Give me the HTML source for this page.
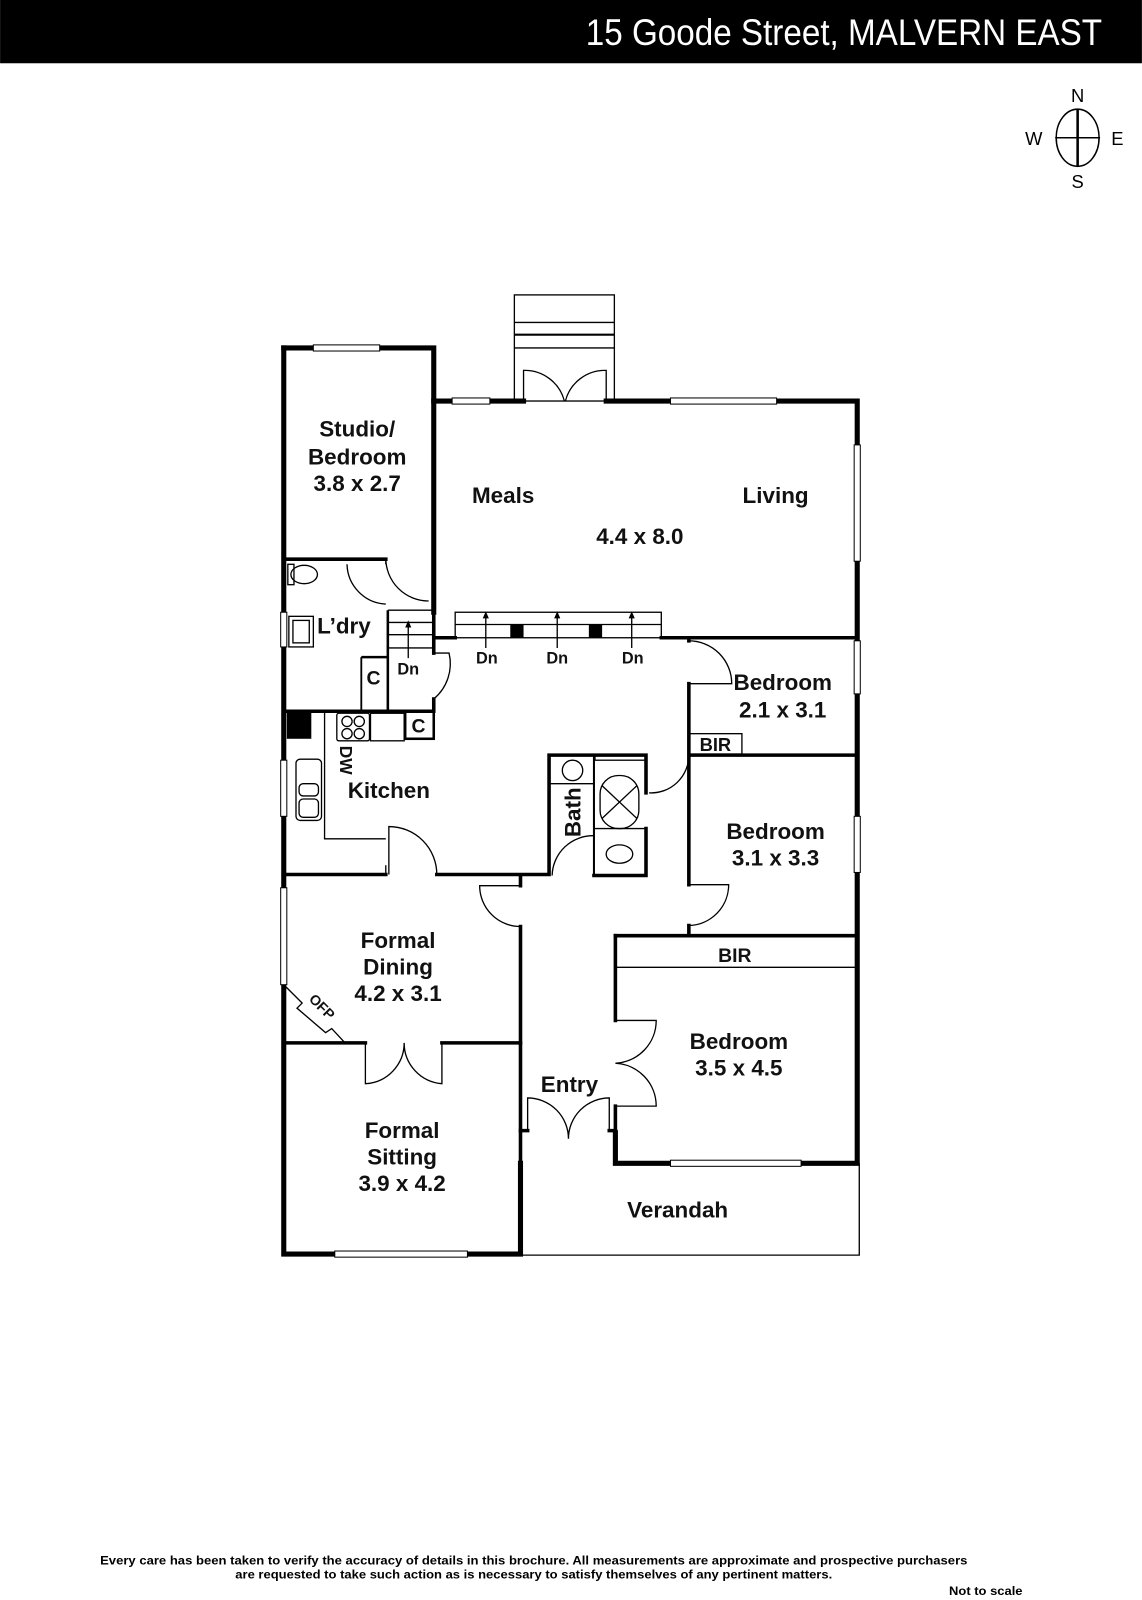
<!DOCTYPE html>
<html><head><style>
html,body{margin:0;padding:0;background:#fff;}
svg{display:block;}
text{font-family:"Liberation Sans",sans-serif;}
.l{font-weight:bold;font-size:22px;text-anchor:middle;fill:#111;}
</style></head><body>
<svg width="1142" height="1600" viewBox="0 0 1119 1568" xmlns="http://www.w3.org/2000/svg">
<rect x="0" y="0" width="1119" height="62" fill="#000"/>
<text x="1080" y="44" fill="#fff" font-size="36" text-anchor="end" textLength="506" lengthAdjust="spacingAndGlyphs">15 Goode Street, MALVERN EAST</text>
<!-- compass -->
<g stroke="#000" fill="none" stroke-width="1.5">
<ellipse cx="1056" cy="135" rx="21" ry="28"/>
<line x1="1034" y1="135" x2="1078" y2="135"/>
<line x1="1056" y1="107" x2="1056" y2="163" stroke-width="2.5"/>
</g>
<g font-size="18" text-anchor="middle" fill="#000">
<text x="1056" y="100">N</text><text x="1056" y="184">S</text>
<text x="1013" y="142">W</text><text x="1095" y="142">E</text>
</g>

<g stroke="#000" fill="none" stroke-width="1.3">
<rect x="504" y="289" width="98" height="104"/>
<line x1="504" y1="316" x2="602" y2="316"/>
<line x1="504" y1="328" x2="602" y2="328" stroke-width="2"/>
<line x1="504" y1="341" x2="602" y2="341"/>
<path d="M513 393 V363 A40 40 0 0 1 553 393 M594 393 V363 A40 40 0 0 0 554 393"/>
<path d="M510 1140 V1230 H842 V1140"/>
<rect x="446" y="600" width="202" height="25"/>
<line x1="446" y1="612" x2="648" y2="612"/>
<line x1="380" y1="598" x2="425" y2="598"/><line x1="380" y1="610" x2="425" y2="610"/>
<line x1="380" y1="622" x2="425" y2="622"/><line x1="380" y1="635" x2="425" y2="635"/>
<line x1="380" y1="598" x2="380" y2="697" stroke-width="2.5"/>
<line x1="354" y1="644" x2="354" y2="697" stroke-width="1.8"/>
<line x1="354" y1="644" x2="380" y2="644" stroke-width="2.5"/>
<path d="M340 553 A40 40 0 0 0 378 592 M378 553 V548"/>
<path d="M378 547 A42 42 0 0 0 420 589"/>
<path d="M425 640 H440 A45 45 0 0 1 425 685"/>
<path d="M675 628 A42 42 0 0 1 717 670 H675"/>
<path d="M675 740 A37 37 0 0 1 636 777"/>
<path d="M675 867 H714 A40 40 0 0 1 675 907"/>
<path d="M510 868 H470 A40 40 0 0 0 510 908"/>
<path d="M378 857 V848 M428 857 A47 47 0 0 0 381 810 V857"/>
<path d="M541 858 A40 40 0 0 1 582 819"/>
<path d="M603 1000 H643 A42 42 0 0 1 603 1042 A42 42 0 0 1 643 1084 H603"/>
<path d="M358 1022 V1062 A40 40 0 0 0 396 1022 A40 40 0 0 0 433 1062 V1022"/>
<path d="M517 1108 V1076 A40 40 0 0 1 557 1116 A40 40 0 0 1 597 1076 V1108"/>
<rect x="675" y="719" width="52" height="20"/>
<line x1="603" y1="948" x2="838" y2="948"/>
<line x1="582" y1="740" x2="582" y2="858" stroke-width="2"/>
<line x1="538" y1="768" x2="582" y2="768"/>
<circle cx="561" cy="755" r="10"/>
<rect x="588" y="760" width="38" height="52" rx="18"/>
<path d="M590 770 L624 802 M624 770 L590 802"/>
<line x1="582" y1="812" x2="633" y2="812"/>
<ellipse cx="607" cy="837" rx="13" ry="9"/>
<rect x="583" y="740" width="50" height="5"/>
<ellipse cx="298" cy="563" rx="13" ry="9"/>
<rect x="282" y="553" width="6" height="20"/>
<rect x="283" y="604" width="24" height="30"/><rect x="287" y="608" width="16" height="22"/>
<path d="M318 697 V822 H378"/>
<rect x="290" y="744" width="25" height="60" rx="4"/>
<rect x="293" y="768" width="19" height="12" rx="4"/><rect x="293" y="783" width="19" height="18" rx="4"/>
<rect x="330" y="699" width="32" height="27" rx="2"/>
<circle cx="340" cy="707" r="5"/><circle cx="352" cy="707" r="5"/><circle cx="340" cy="719" r="5"/><circle cx="352" cy="719" r="5"/>
<rect x="363" y="699" width="33" height="27"/>
<rect x="397" y="697" width="28" height="27" stroke-width="2.5"/>
<path d="M280 967 L296 983 L291 988 L319 1012 L325 1008 L338 1022"/>
<path d="M400 645 V612 M476 635 V603 M546 635 V603 M619 635 V603"/>
</g>
<g fill="#000">
<path d="M400 608 l-3 7 h6z M476 599 l-3 7 h6z M546 599 l-3 7 h6z M619 599 l-3 7 h6z"/>
<rect x="500" y="612" width="13" height="13"/><rect x="577" y="612" width="13" height="13"/>
<rect x="281" y="697" width="24" height="27"/>
</g>

<g stroke="#000" fill="none" stroke-width="5" stroke-linecap="square">
<path d="M278 341 V1229 H510 V1140"/>
<path d="M278 341 H425 V393 H513 M594 393 H840 V1140 H603 V1110"/>
<path d="M425 393 V600"/>
</g>
<g stroke="#000" fill="none" stroke-width="3.5" stroke-linecap="square">
<path d="M280 548 H378"/>
<path d="M425 600 V625 H446 M648 625 H840"/>
<path d="M425 625 V640 M425 685 V697 H280"/>
<path d="M675 625 V628 M675 670 V867 M675 740 H840"/>
<path d="M675 907 V917 M603 917 H840"/>
<path d="M603 917 V1000 M603 1084 V1110"/>
<path d="M510 858 V868 M510 908 V1229"/>
<path d="M280 857 H378 M428 857 H538 V740 H633 V777 M582 858 H633 V812"/>
<path d="M280 1022 H358 M433 1022 H510"/>
<path d="M510 1108 H517 M597 1108 H603"/>
</g>
<g fill="#fff" stroke="#000" stroke-width="1">
<rect x="307" y="338" width="65" height="6"/>
<rect x="443" y="390" width="37" height="6"/>
<rect x="657" y="390" width="104" height="6"/>
<rect x="837" y="436" width="6" height="114"/>
<rect x="837" y="628" width="6" height="52"/>
<rect x="837" y="800" width="6" height="55"/>
<rect x="275" y="600" width="6" height="34"/>
<rect x="275" y="745" width="6" height="55"/>
<rect x="275" y="870" width="6" height="95"/>
<rect x="657" y="1137" width="128" height="6"/>
<rect x="328" y="1226" width="130" height="6"/>
</g>

<g class="l">
<text class="l" x="350" y="428">Studio/</text>
<text class="l" x="350" y="455">Bedroom</text>
<text class="l" x="350" y="481">3.8 x 2.7</text>
<text class="l" x="493" y="493">Meals</text>
<text class="l" x="760" y="493">Living</text>
<text class="l" x="627" y="533">4.4 x 8.0</text>
<text class="l" x="337" y="621">L’dry</text>
<text class="l" x="366" y="671" style="font-size:19px">C</text>
<text class="l" x="410" y="718" style="font-size:19px">C</text>
<text class="l" x="400" y="661" style="font-size:16px">Dn</text>
<text class="l" x="477" y="650" style="font-size:16px">Dn</text>
<text class="l" x="546" y="650" style="font-size:16px">Dn</text>
<text class="l" x="620" y="650" style="font-size:16px">Dn</text>
<text class="l" x="767" y="676">Bedroom</text>
<text class="l" x="767" y="703">2.1 x 3.1</text>
<text class="l" x="701" y="736" style="font-size:18px">BIR</text>
<text class="l" x="381" y="782">Kitchen</text>
<text class="l" x="0" y="0" style="font-size:17px" transform="translate(333,745) rotate(90)">DW</text>
<text class="l" x="0" y="0" transform="translate(569,796) rotate(-90)">Bath</text>
<text class="l" x="760" y="822">Bedroom</text>
<text class="l" x="760" y="848">3.1 x 3.3</text>
<text class="l" x="720" y="943" style="font-size:19px">BIR</text>
<text class="l" x="390" y="929">Formal</text>
<text class="l" x="390" y="955">Dining</text>
<text class="l" x="390" y="981">4.2 x 3.1</text>
<text class="l" x="0" y="0" style="font-size:14px" transform="translate(312,990) rotate(45)">OFP</text>
<text class="l" x="724" y="1028">Bedroom</text>
<text class="l" x="724" y="1054">3.5 x 4.5</text>
<text class="l" x="558" y="1070">Entry</text>
<text class="l" x="394" y="1115">Formal</text>
<text class="l" x="394" y="1141">Sitting</text>
<text class="l" x="394" y="1167">3.9 x 4.2</text>
<text class="l" x="664" y="1193">Verandah</text>
</g>
<g font-size="12" font-weight="bold" fill="#000" text-anchor="middle">
<text x="523" y="1533" textLength="850" lengthAdjust="spacingAndGlyphs">Every care has been taken to verify the accuracy of details in this brochure.  All measurements are approximate and prospective purchasers</text>
<text x="523" y="1547" textLength="585" lengthAdjust="spacingAndGlyphs">are requested to take such action as is necessary to satisfy themselves of any pertinent matters.</text>
<text x="966" y="1563" textLength="72" lengthAdjust="spacingAndGlyphs">Not to scale</text>
</g>
</svg>
</body></html>
